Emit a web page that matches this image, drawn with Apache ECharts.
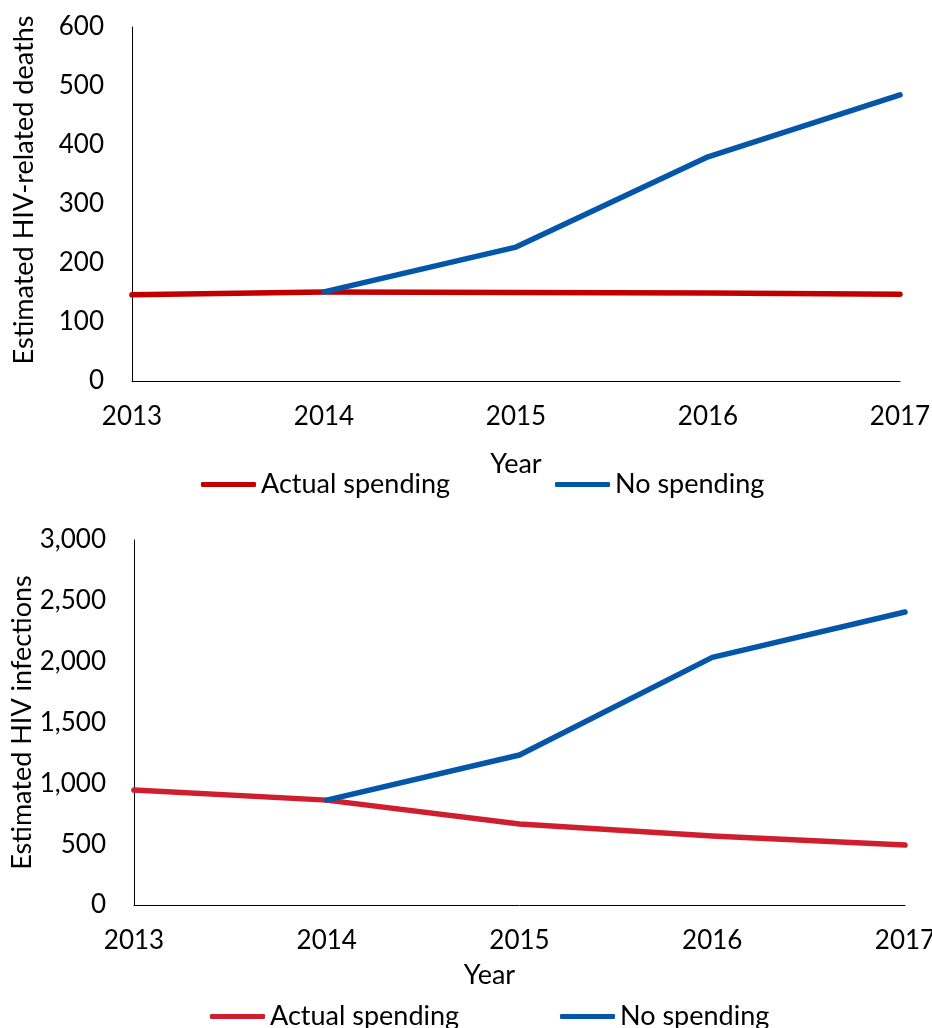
<!DOCTYPE html>
<html>
<head>
<meta charset="utf-8">
<script src="https://cdn.jsdelivr.net/npm/echarts@6/dist/echarts.min.js"></script>
<style>
  html, body { margin: 0; padding: 0; background: #fff; }
  #chart { width: 932px; height: 1028px; }
</style>
</head>
<body>
<div id="chart"></div>
<script>
const years = ['2013', '2014', '2015', '2016', '2017'];
const deathsActual = [146, 151, 150, 149, 147];
const deathsNoSpending = [null, 151, 227, 380, 485];
const infectionsActual = [945, 862, 666, 567, 493];
const infectionsNoSpending = [null, 862, 1233, 2035, 2408];
const seriesNames = ['Actual spending', 'No spending'];
const deathsTitle = 'Estimated HIV-related deaths';
const infectionsTitle = 'Estimated HIV infections';
const xTitle = 'Year';

const FONT = 'Lato';
const FS_TICK = 26;
const FS_TEXT = 27;
const RED_TOP = '#C00000';
const RED_BOTTOM = '#CF1F2F';
const BLUE = '#0456A8';

const chart = echarts.init(document.getElementById('chart'), null, { renderer: 'canvas' });

const tick = { color: '#000', fontFamily: FONT, fontSize: FS_TICK };
const txt = { color: '#000', fontFamily: FONT, fontSize: FS_TEXT };
const axisLine = { show: true, lineStyle: { color: '#000', width: 1 } };

function xAxis(gridIndex, gap, pad) {
  return {
    type: 'category', gridIndex, data: years, boundaryGap: false,
    axisLine, axisTick: { show: false },
    axisLabel: Object.assign({ margin: 23, interval: 0 }, tick),
    name: xTitle, nameLocation: 'middle', nameGap: gap, nameMoveOverlap: false,
    nameTextStyle: Object.assign({ padding: pad }, txt)
  };
}
function yAxis(gridIndex, max, interval, name, gap, pad, fmt) {
  return {
    type: 'value', gridIndex, min: 0, max, interval,
    axisLine, axisTick: { show: false }, splitLine: { show: false },
    axisLabel: Object.assign({ margin: 28, formatter: fmt }, tick),
    name, nameLocation: 'middle', nameGap: gap, nameMoveOverlap: false,
    nameTextStyle: Object.assign({ padding: pad }, txt)
  };
}
function line(name, data, color, idx) {
  return {
    type: 'line', name, data, xAxisIndex: idx, yAxisIndex: idx,
    symbol: 'none', connectNulls: false,
    lineStyle: { color, width: 5.5, cap: 'round', join: 'round' },
    itemStyle: { color }, emphasis: { disabled: true }
  };
}
function legend(name, color, left, top) {
  return {
    left, top, padding: 0, icon: 'roundRect', itemWidth: 55, itemHeight: 5,
    textStyle: txt, selectedMode: false,
    data: [{ name, itemStyle: { color }, lineStyle: { color } }]
  };
}
const fmtComma = v => v.toLocaleString('en-US');

chart.setOption({
  animation: false,
  backgroundColor: '#fff',
  grid: [
    { left: 132, top: 27, width: 768, height: 354, containLabel: false, outerBoundsMode: 'none' },
    { left: 134, top: 540, width: 771, height: 365, containLabel: false, outerBoundsMode: 'none' }
  ],
  xAxis: [xAxis(0, 70, [0, 0, 0, 0]), xAxis(1, 57, [0, 60, 0, 0])],
  yAxis: [
    yAxis(0, 600, 100, deathsTitle, 94, [0, 0, 0, 28], v => String(v)),
    yAxis(1, 3000, 500, infectionsTitle, 98, [0, 0, 0, 0], fmtComma)
  ],
  legend: [
    legend(seriesNames[0], RED_TOP, 201, 471),
    legend(seriesNames[1], BLUE, 555, 471),
    legend(seriesNames[0], RED_BOTTOM, 210, 1003),
    legend(seriesNames[1], BLUE, 560, 1003)
  ],
  series: [
    line(seriesNames[0], deathsActual, RED_TOP, 0),
    line(seriesNames[1], deathsNoSpending, BLUE, 0),
    line(seriesNames[0], infectionsActual, RED_BOTTOM, 1),
    line(seriesNames[1], infectionsNoSpending, BLUE, 1)
  ]
});
</script>
</body>
</html>
